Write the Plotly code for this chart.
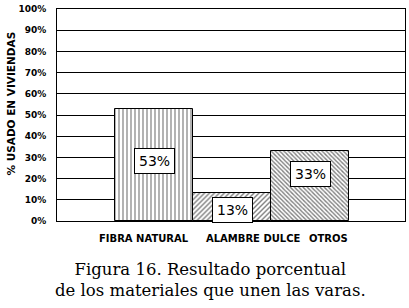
import plotly.graph_objects as go

categories = ["FIBRA NATURAL", "ALAMBRE DULCE", "OTROS"]
values = [53, 13, 33]
value_labels = ["53%", "13%", "33%"]
y_ticks = [0, 10, 20, 30, 40, 50, 60, 70, 80, 90, 100]
y_tick_labels = [f"{v}%" for v in y_ticks]

patterns = ["|", "/", "\\"]
pattern_sizes = [4, 3.5, 3]
pattern_solidity = [0.3, 0.4, 0.45]
label_yshift = [4, -3, 12]
cat_xshift = [-10, 21, 18]

xs = list(range(len(categories)))

fig = go.Figure()
for i, (c, v) in enumerate(zip(categories, values)):
    fig.add_trace(go.Bar(
        x=[xs[i]], y=[v], width=1.0,
        marker=dict(color="white", line=dict(color="black", width=1),
                    pattern=dict(shape=patterns[i], fgcolor="black", bgcolor="white",
                                 size=pattern_sizes[i], solidity=pattern_solidity[i])),
        showlegend=False, hoverinfo="skip",
    ))

annotations = []
for i, v in enumerate(values):
    annotations.append(dict(
        x=xs[i], y=v / 2, xref="x", yref="y", text=value_labels[i], showarrow=False,
        font=dict(family="DejaVu Sans", size=14, color="black"),
        bgcolor="white", bordercolor="black", borderwidth=1, borderpad=4,
        yshift=label_yshift[i],
    ))
    annotations.append(dict(
        x=xs[i], y=0, xref="x", yref="y", text="<b>" + categories[i] + "</b>", showarrow=False,
        font=dict(family="DejaVu Sans", size=10, color="black"),
        xanchor="center", yanchor="top", yshift=-10, xshift=cat_xshift[i],
    ))

annotations.append(dict(
    x=-47 / 348, y=(221 - 103.5) / 212, xref="paper", yref="paper",
    xanchor="center", yanchor="middle",
    text="<b>% USADO EN VIVIENDAS</b>", showarrow=False, textangle=-90,
    font=dict(family="DejaVu Sans", size=10.5, color="black"),
))
annotations.append(dict(
    x=(210 - 57) / 348, y=-(280 - 221) / 212, xref="paper", yref="paper",
    xanchor="center", yanchor="middle",
    text="Figura 16. Resultado porcentual<br>de los materiales que unen las varas.",
    showarrow=False, align="center",
    font=dict(family="DejaVu Serif", size=16.5, color="black"),
))

fig.update_layout(
    width=409, height=308,
    margin=dict(l=57, r=4, t=9, b=87),
    paper_bgcolor="white", plot_bgcolor="white",
    bargap=0,
    xaxis=dict(range=[-1.244, 3.218], showticklabels=False, showgrid=False, zeroline=False,
               showline=True, linecolor="black", linewidth=1, mirror=True, ticks=""),
    yaxis=dict(range=[0, 100], tickvals=y_ticks, ticktext=y_tick_labels,
               tickfont=dict(family="DejaVu Sans", size=9, color="black", weight="bold"),
               showgrid=True, gridcolor="black", gridwidth=1, zeroline=False,
               showline=True, linecolor="black", linewidth=1, mirror=True, ticks="",
               ticklabelstandoff=8),
    annotations=annotations,
)

fig.write_html("out.html", config={"displayModeBar": False},
               post_script="document.body.style.margin='0';")
